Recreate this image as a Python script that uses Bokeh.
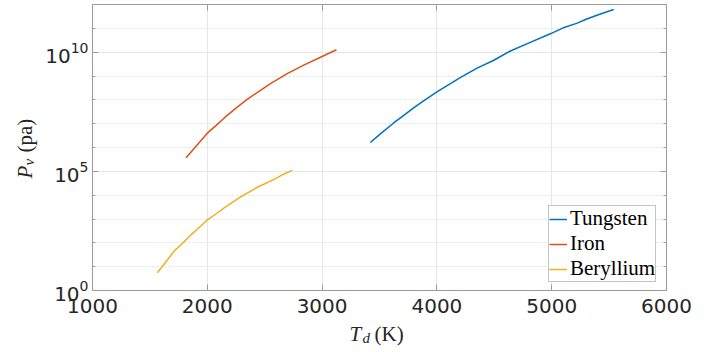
import math
from bokeh.plotting import figure
from bokeh.models import FixedTicker, LogAxis, LinearAxis, Label, CustomJSTickFormatter
from bokeh.embed import file_html
from bokeh.resources import INLINE

# ---- data ----
tungsten_T = [3420, 3500, 3623, 3700, 3800, 3900, 4000, 4100, 4203, 4350, 4492,
              4640, 4783, 4988, 5100, 5217, 5300, 5400, 5540]
tungsten_P = [1.62e6, 3.47e6, 1.07e7, 2.04e7, 4.68e7, 1.02e8, 2.14e8, 4.27e8, 8.5e8, 2.14e9,
              4.47e9, 1.12e10, 2.24e10, 5.89e10, 1.05e11, 1.62e11, 2.4e11, 3.63e11, 6.17e11]

iron_T = [1815, 1900, 2000, 2075, 2150, 2250, 2350, 2450, 2550, 2700, 2840, 3000, 3125]
iron_P = [3.7e5, 1.1e6, 4.0e6, 8.3e6, 1.78e7, 4.47e7, 1.07e8, 2.29e8, 4.79e8, 1.29e9,
          2.85e9, 6.6e9, 1.26e10]

beryllium_T = [1565, 1640, 1710, 1780, 1850, 1920, 2000, 2075, 2150, 2290, 2440, 2579, 2660, 2740]
beryllium_P = [5.6, 16, 45, 91, 200, 400, 910, 1.62e3, 3.0e3, 8.5e3, 2.2e4, 4.5e4, 7.4e4, 1.1e5]

x_ticks = [1000, 2000, 3000, 4000, 5000, 6000]
y_major = [1, 1e5, 1e10]
y_minor = [1e1, 1e2, 1e3, 1e4, 1e6, 1e7, 1e8, 1e9, 1e11, 1e12]

series_names = ["Tungsten", "Iron", "Beryllium"]
series_colors = ["#0072BD", "#D95319", "#EDB120"]

AX = "#9a9a9a"
TXT = "#262626"
SERIF_IT = "Liberation Serif"
SERIF_UP = "Times New Roman"

FRAME_W, FRAME_H = 574, 286
B_LEFT, B_RIGHT, B_TOP, B_BOTTOM = 92, 40, 4, 56

p = figure(frame_width=FRAME_W, frame_height=FRAME_H,
           x_range=(1000, 6000), y_range=(1, 1e12), y_axis_type="log",
           output_backend="svg", toolbar_location=None,
           min_border_left=B_LEFT, min_border_right=B_RIGHT,
           min_border_top=B_TOP, min_border_bottom=B_BOTTOM)
p.background_fill_color = "white"
p.outline_line_color = AX
p.outline_line_width = 1

xt = FixedTicker(ticks=x_ticks)
yt = FixedTicker(ticks=y_major, minor_ticks=y_minor)

p.xaxis.ticker = xt
p.yaxis.ticker = yt

for ax in (p.xaxis[0], p.yaxis[0]):
    ax.axis_line_color = None
    ax.major_tick_in = 6
    ax.major_tick_out = 0
    ax.minor_tick_in = 3
    ax.minor_tick_out = 0
    ax.major_tick_line_color = AX
    ax.minor_tick_line_color = AX
    ax.major_label_text_font = "DejaVu Sans"
    ax.major_label_text_font_size = "20px"
    ax.major_label_text_color = TXT
p.xaxis.minor_tick_line_color = None
p.xaxis.major_label_standoff = 8
p.yaxis.major_label_standoff = 4

empty = CustomJSTickFormatter(code="return ''")
top = LinearAxis(ticker=xt, formatter=empty, axis_line_color=None,
                 major_tick_in=6, major_tick_out=0, minor_tick_line_color=None,
                 major_tick_line_color=AX, major_label_standoff=0)
right = LogAxis(ticker=yt, formatter=empty, axis_line_color=None,
                major_tick_in=6, major_tick_out=0, minor_tick_in=3, minor_tick_out=0,
                major_tick_line_color=AX, minor_tick_line_color=AX, major_label_standoff=0)
p.add_layout(top, "above")
p.add_layout(right, "right")

p.xgrid.ticker = xt
p.xgrid.grid_line_color = "#e6e6e6"
p.ygrid.ticker = yt
p.ygrid.grid_line_color = "#e6e6e6"
p.ygrid.minor_grid_line_color = "#e0e0e0"
p.ygrid.minor_grid_line_dash = "2 2"

data = [(tungsten_T, tungsten_P), (iron_T, iron_P), (beryllium_T, beryllium_P)]
for (tx, py), name, col in zip(data, series_names, series_colors):
    p.line(tx, py, line_color=col, line_width=1.5, legend_label=name)

lg = p.legend[0]
lg.location = (456, 8)
lg.margin = 0
lg.label_text_font = SERIF_UP
lg.label_text_font_size = "21px"
lg.label_text_color = "black"
lg.label_height = 22
lg.glyph_width = 18
lg.glyph_height = 20
lg.label_standoff = 3
lg.padding = 0
lg.spacing = 0
lg.border_line_color = "#8a8a8a"
lg.background_fill_alpha = 1


def canvas_label(x, y, text, size="21px", italic=False, angle=0.0):
    # canvas coordinates: x from the left, y from the top of the canvas.
    # Placed in the bottom side panel so that it is not clipped to the frame
    # and does not push the frame sideways.
    p.add_layout(Label(x=x, y=y, x_units="canvas", y_units="canvas",
                       text=text, text_font=SERIF_IT if italic else SERIF_UP,
                       text_font_style="italic" if italic else "normal",
                       text_font_size=size, text_color=TXT, angle=angle,
                       text_align="left", text_baseline="middle"), "below")


# x axis title: T_d (K)
canvas_label(349, 333, "T", italic=True)
canvas_label(362, 337, "d", size="15px", italic=True)
canvas_label(374, 333, "(K)")
# y axis title: P_v (pa), rotated
canvas_label(24, 178, "P", italic=True, angle=math.pi / 2)
canvas_label(28, 165, "v", size="15px", italic=True, angle=math.pi / 2)
canvas_label(24, 152, "(pa)", angle=math.pi / 2)

open("out.html", "w").write(file_html(p, INLINE))
